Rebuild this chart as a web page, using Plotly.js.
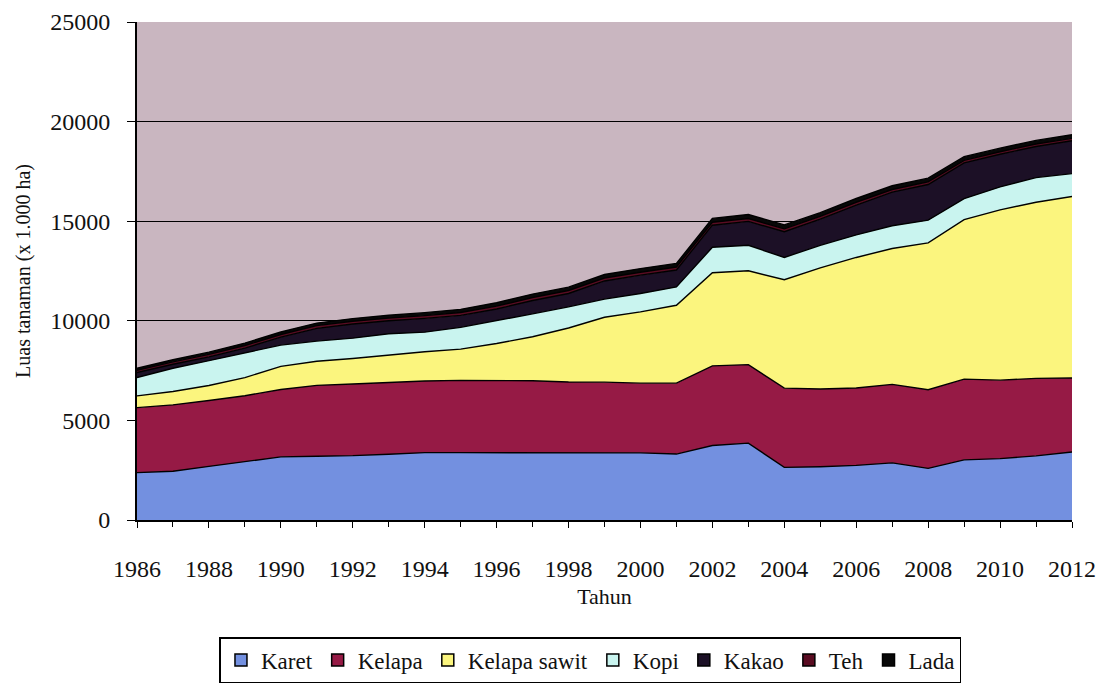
<!DOCTYPE html>
<html>
<head>
<meta charset="utf-8">
<script src="https://cdn.plot.ly/plotly-3.0.1.min.js"></script>
<style>
  html, body { margin: 0; padding: 0; background: #ffffff; }
  #chart { width: 1096px; height: 697px; }
</style>
</head>
<body>
<div id="chart"></div>
<script>
// Tahun (years)
const years = [1986,1987,1988,1989,1990,1991,1992,1993,1994,1995,1996,1997,1998,1999,2000,2001,2002,2003,2004,2005,2006,2007,2008,2009,2010,2011,2012];

// Luas tanaman (x 1.000 ha)
const karet       = [2380,2450,2690,2930,3170,3200,3230,3300,3380,3380,3380,3390,3400,3370,3370,3310,3740,3860,2640,2670,2740,2870,2590,3020,3080,3220,3410];
const kelapa      = [3260,3330,3310,3310,3380,3560,3600,3600,3600,3630,3630,3600,3530,3550,3500,3560,4000,3940,3980,3910,3890,3940,3950,4050,3940,3890,3720];
const kelapaSawit = [590,670,750,910,1160,1210,1280,1380,1470,1570,1850,2210,2710,3260,3580,3910,4670,4710,5440,6080,6550,6820,7370,8010,8550,8840,9110];
const kopi        = [920,1170,1250,1240,1070,1010,1020,1070,980,1090,1140,1150,1060,910,920,920,1280,1280,1120,1130,1130,1140,1140,1050,1150,1240,1150];
const kakao       = [250,200,190,240,400,640,710,650,690,600,590,670,670,910,920,850,1110,1200,1290,1310,1500,1690,1790,1800,1640,1560,1650];
const teh         = [120,120,125,130,130,135,140,140,140,145,145,150,150,150,150,150,150,145,145,140,140,130,130,125,125,125,120];
const lada        = [100,105,110,120,130,130,130,140,150,160,170,170,170,175,180,180,190,200,200,190,190,190,190,185,180,180,180];

const seriesNames = ["Karet","Kelapa","Kelapa sawit","Kopi","Kakao","Teh","Lada"];
const seriesData  = [karet, kelapa, kelapaSawit, kopi, kakao, teh, lada];
const seriesFill  = ["#7390e0","#961a45","#fbf57e","#c9f4ef","#1c1026","#5a0c22","#080808"];

const FONT = "Liberation Serif, Times New Roman, serif";

// Stacked areas (drawn from the data)
const areaTraces = seriesNames.map((name, i) => ({
  type: "scatter",
  mode: "lines",
  name: name,
  legendgroup: name,
  showlegend: false,
  x: years,
  y: seriesData[i],
  stackgroup: "one",
  line: { color: "#000000", width: 1.4 },
  fillcolor: seriesFill[i],
  hoverinfo: "skip"
}));

// Legend-only entries with square keys, as in the original legend
const legendTraces = seriesNames.map((name, i) => ({
  type: "scatter",
  mode: "markers",
  name: name,
  legendgroup: name,
  showlegend: true,
  x: [null],
  y: [null],
  marker: { symbol: "square", size: 12, color: seriesFill[i], line: { color: "#000000", width: 1.5 } },
  hoverinfo: "skip"
}));

const layout = {
  width: 1096,
  height: 697,
  margin: { l: 137, r: 24, t: 22, b: 177 },
  paper_bgcolor: "#ffffff",
  plot_bgcolor: "#c9b6c0",
  font: { family: FONT, color: "#111111", size: 22 },
  showlegend: true,
  legend: {
    orientation: "h",
    x: 0.485, xanchor: "center",
    y: -0.235, yanchor: "top",
    bordercolor: "#000000",
    borderwidth: 1.5,
    bgcolor: "#ffffff",
    font: { family: FONT, size: 23, color: "#111111" },
    itemwidth: 30,
    traceorder: "normal"
  },
  xaxis: {
    range: [1986, 2012],
    tickmode: "linear",
    tick0: 1986,
    dtick: 2,
    ticks: "outside",
    ticklen: 6,
    tickcolor: "#000000",
    ticklabelstandoff: 20,
    minor: { dtick: 1, ticks: "outside", ticklen: 5, tickcolor: "#000000", showgrid: false },
    showgrid: false,
    zeroline: false,
    showline: true,
    linecolor: "#000000",
    linewidth: 2,
    tickfont: { family: FONT, size: 24, color: "#111111" },
    title: { text: "Tahun", font: { family: FONT, size: 22, color: "#111111" }, standoff: 8 }
  },
  yaxis: {
    range: [0, 25000],
    tickmode: "linear",
    tick0: 0,
    dtick: 5000,
    tickformat: "d",
    ticks: "outside",
    ticklen: 8,
    tickcolor: "#000000",
    ticklabelstandoff: 12,
    showgrid: true,
    gridcolor: "#000000",
    gridwidth: 1.3,
    zeroline: false,
    showline: true,
    linecolor: "#000000",
    linewidth: 2,
    tickfont: { family: FONT, size: 24, color: "#111111" },
    title: { text: "Luas tanaman (x 1.000 ha)", font: { family: FONT, size: 20, color: "#111111" }, standoff: 14 }
  }
};

Plotly.newPlot("chart", areaTraces.concat(legendTraces), layout, { displayModeBar: false, staticPlot: true });
</script>
</body>
</html>
